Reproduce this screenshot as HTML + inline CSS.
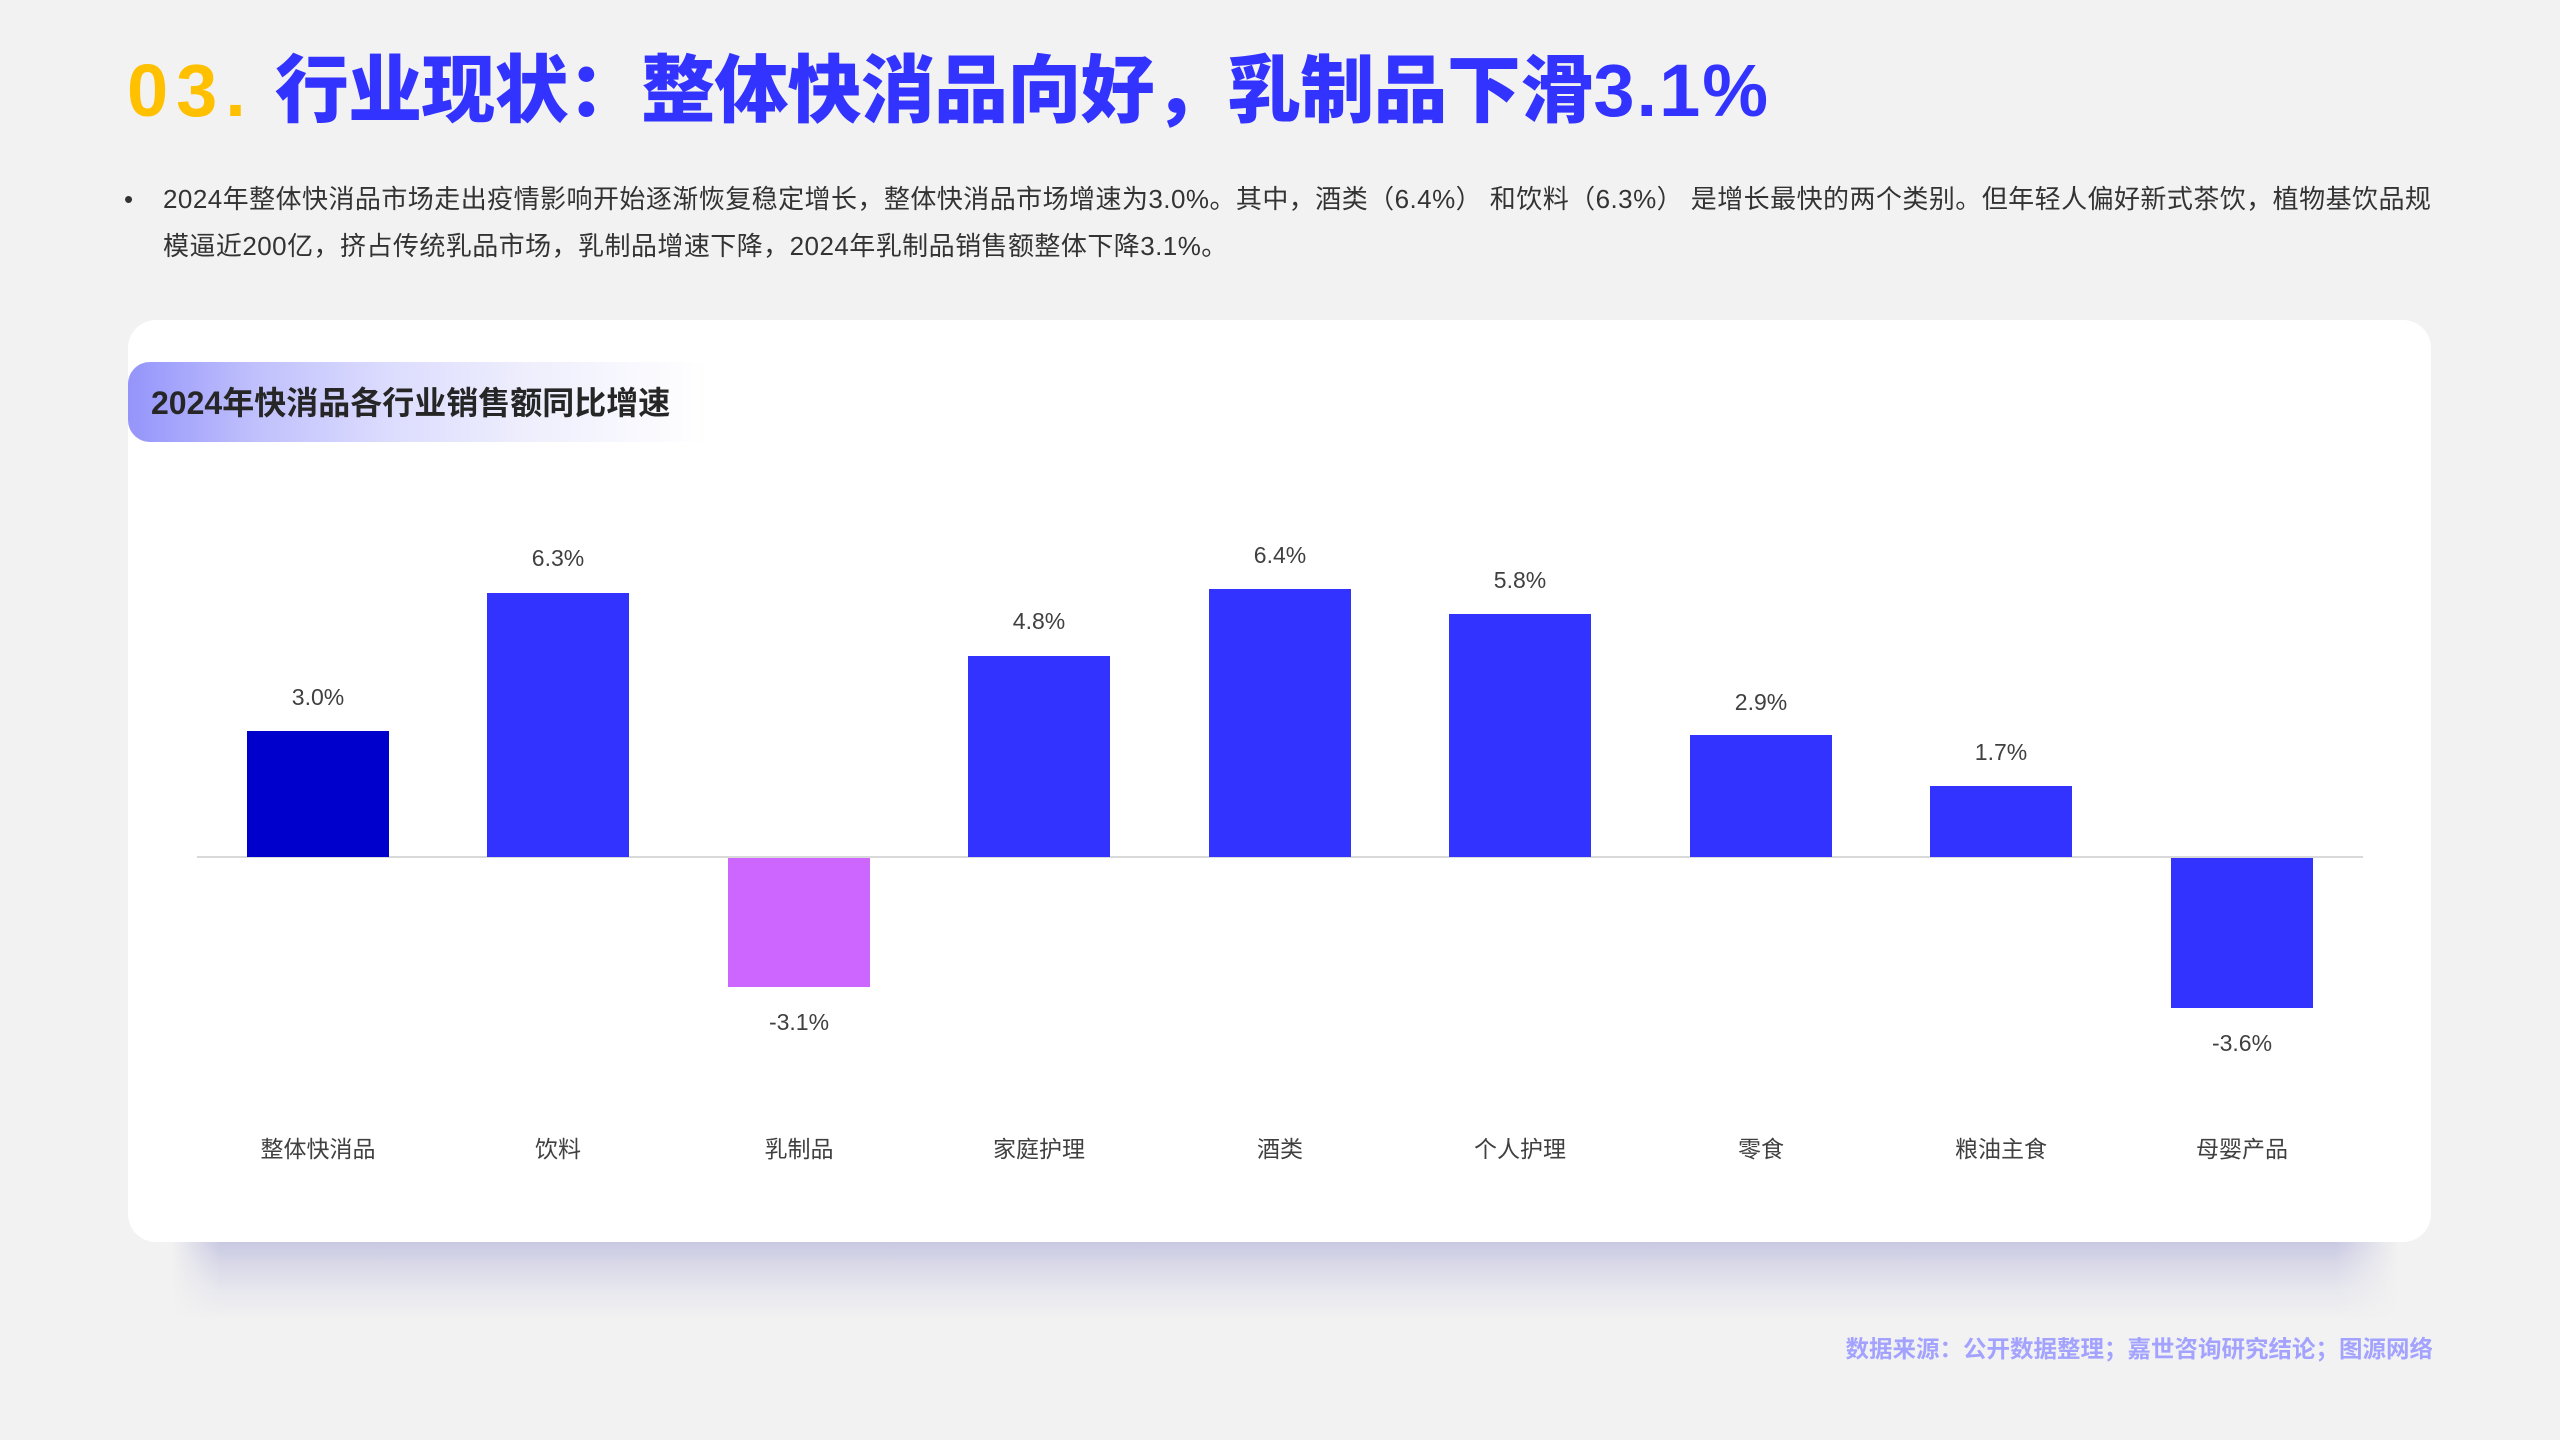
<!DOCTYPE html>
<html lang="zh-CN">
<head>
<meta charset="utf-8">
<style>
  html,body{margin:0;padding:0;}
  body{width:2560px;height:1440px;background:#f2f2f2;overflow:hidden;position:relative;
       font-family:"Liberation Sans","Noto Sans CJK SC",sans-serif;}
  .abs{position:absolute;}
  .title{left:127px;top:47px;height:88px;line-height:88px;font-size:74px;font-weight:900;white-space:nowrap;
         font-family:"Liberation Sans","Noto Sans CJK SC",sans-serif;}
  .title .num{color:#FFC000;letter-spacing:8px;margin-right:21px;}
  .title .txt{color:#3333FF;letter-spacing:-0.75px;}
  .title .pct{letter-spacing:2px;}
  .body-line{left:163px;font-size:26px;color:#333;white-space:nowrap;height:47px;line-height:47px;letter-spacing:0.45px;}
  .bullet{left:124px;top:176px;font-size:26px;line-height:47px;color:#333;}
  .card{left:128px;top:320px;width:2303px;height:922px;background:#fff;border-radius:28px;}
  .shadow{left:172px;top:1242px;width:2226px;height:78px;
          background:linear-gradient(to bottom,#c8c8e2 0%,#d9d9e8 30%,#e6e6ee 60%,rgba(242,242,242,0) 100%);
          -webkit-mask-image:linear-gradient(to right,transparent 0,#000 48px,#000 calc(100% - 62px),transparent 100%);
          mask-image:linear-gradient(to right,transparent 0,#000 48px,#000 calc(100% - 62px),transparent 100%);}
  .tag{left:128px;top:362px;width:580px;height:80px;border-radius:22px 0 0 22px;
       background:linear-gradient(to right,#9494fb 0%,#c0c0fd 22%,#dcdcfe 45%,#efeffd 70%,rgba(255,255,255,0) 100%);}
  .tagtxt{left:151px;top:363px;height:80px;line-height:80px;font-size:32px;font-weight:bold;color:#262626;white-space:nowrap;}
  .source{right:127px;top:1332px;height:34px;line-height:34px;font-size:23.5px;font-weight:bold;color:#a3a3ff;white-space:nowrap;}
</style>
</head>
<body>

<div class="abs shadow"></div>
<div class="abs card"></div>

<div class="abs title"><span class="num">03.</span><span class="txt">行业现状：整体快消品向好，乳制品下滑<span class="pct">3.1%</span></span></div>

<div class="abs bullet">•</div>
<div class="abs body-line" style="top:176px;">2024年整体快消品市场走出疫情影响开始逐渐恢复稳定增长，整体快消品市场增速为3.0%。其中，酒类（6.4%） 和饮料（6.3%） 是增长最快的两个类别。但年轻人偏好新式茶饮，植物基饮品规</div>
<div class="abs body-line" style="top:223px;">模逼近200亿，挤占传统乳品市场，乳制品增速下降，2024年乳制品销售额整体下降3.1%。</div>

<div class="abs tag"></div>
<div class="abs tagtxt">2024年快消品各行业销售额同比增速</div>

<svg class="abs" style="left:0;top:0;" width="2560" height="1440" viewBox="0 0 2560 1440" xmlns="http://www.w3.org/2000/svg">
  <g font-family="Liberation Sans, Noto Sans CJK SC, sans-serif" fill="#404040">
    <rect x="197" y="856" width="2166" height="2" fill="#d9d9d9"/>
    <rect x="247" y="731" width="142" height="126" fill="#0000CC"/>
    <rect x="487" y="593" width="142" height="264" fill="#3333FF"/>
    <rect x="728" y="858" width="142" height="129" fill="#CC66FF"/>
    <rect x="968" y="656" width="142" height="201" fill="#3333FF"/>
    <rect x="1209" y="589" width="142" height="268" fill="#3333FF"/>
    <rect x="1449" y="614" width="142" height="243" fill="#3333FF"/>
    <rect x="1690" y="735" width="142" height="122" fill="#3333FF"/>
    <rect x="1930" y="786" width="142" height="71" fill="#3333FF"/>
    <rect x="2171" y="858" width="142" height="150" fill="#3333FF"/>
    <g font-size="23" text-anchor="middle" dominant-baseline="central">
      <text x="318" y="697">3.0%</text>
      <text x="558" y="558">6.3%</text>
      <text x="799" y="1022">-3.1%</text>
      <text x="1039" y="621">4.8%</text>
      <text x="1280" y="555">6.4%</text>
      <text x="1520" y="580">5.8%</text>
      <text x="1761" y="702">2.9%</text>
      <text x="2001" y="752">1.7%</text>
      <text x="2242" y="1043">-3.6%</text>
    </g>
    <g font-size="23" text-anchor="middle" dominant-baseline="central">
      <text x="318" y="1149">整体快消品</text>
      <text x="558" y="1149">饮料</text>
      <text x="799" y="1149">乳制品</text>
      <text x="1039" y="1149">家庭护理</text>
      <text x="1280" y="1149">酒类</text>
      <text x="1520" y="1149">个人护理</text>
      <text x="1761" y="1149">零食</text>
      <text x="2001" y="1149">粮油主食</text>
      <text x="2242" y="1149">母婴产品</text>
    </g>
  </g>
</svg>

<div class="abs source">数据来源：公开数据整理；嘉世咨询研究结论；图源网络</div>

</body>
</html>
